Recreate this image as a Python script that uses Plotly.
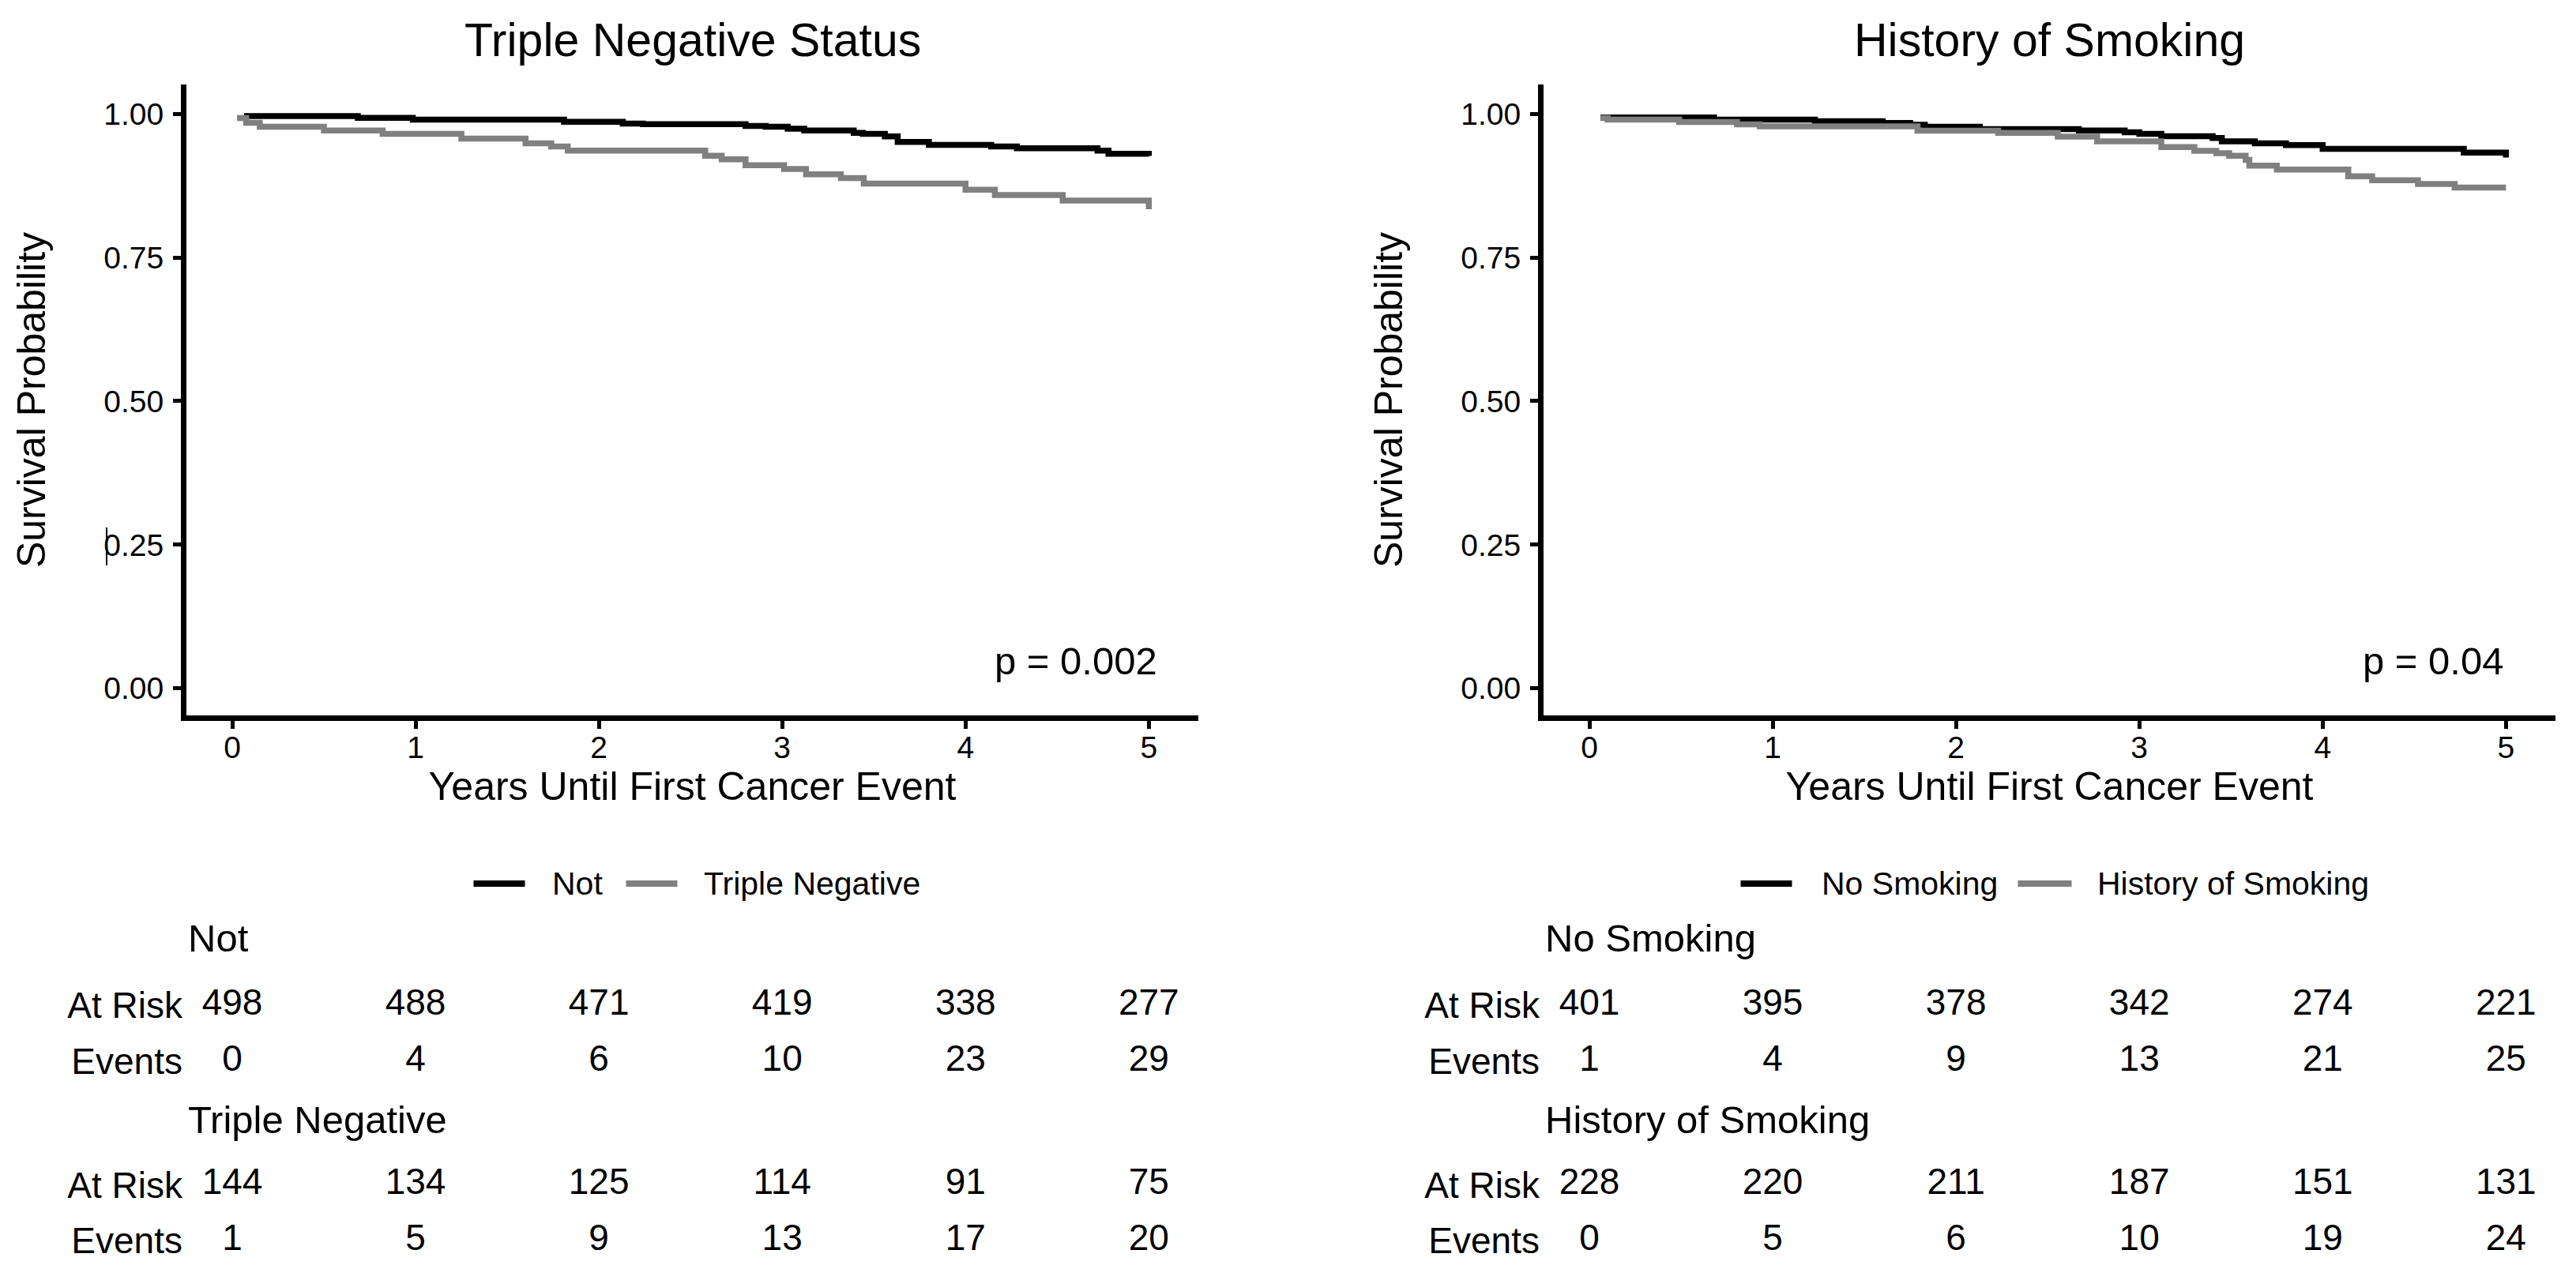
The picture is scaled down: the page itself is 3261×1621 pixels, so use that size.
import plotly.graph_objects as go

W, H = 3261, 1621
# the page body keeps its default 8px margin, so the figure is shrunk by it
# and every pixel position below is given in window pixels
OFF = 8
FIG_W, FIG_H = W - 2 * OFF, H - 2 * OFF
FONT = "Liberation Sans, Arial, sans-serif"
BLACK = "#000000"
GREY = "#808080"

YEAR_TICKS = [0, 1, 2, 3, 4, 5]
ROW_LABELS = ["At Risk", "Events"]

# --- Triple Negative Status ---
tn_not_time = [0.065, 0.685, 0.985, 1.81, 2.13, 2.24, 2.80, 2.91, 3.03, 3.12,
               3.39, 3.44, 3.56, 3.63, 3.80, 4.14, 4.28, 4.72, 4.78, 5.0]
tn_not_surv = [0.996, 0.993, 0.990, 0.986, 0.983, 0.982, 0.979, 0.9775, 0.974, 0.971,
               0.967, 0.965, 0.9605, 0.951, 0.946, 0.943, 0.940, 0.936, 0.9305, 0.9265]
tn_neg_time = [0.026, 0.076, 0.15, 0.50, 0.82, 1.25, 1.60, 1.74, 1.83, 2.58,
               2.67, 2.80, 3.01, 3.13, 3.32, 3.445, 4.0, 4.16, 4.53, 5.0]
tn_neg_surv = [0.9925, 0.9845, 0.9775, 0.971, 0.965, 0.957, 0.9485, 0.943, 0.936, 0.927,
               0.9207, 0.9106, 0.904, 0.8946, 0.888, 0.8785, 0.868, 0.8587, 0.849, 0.834]
tn_not_risk = [498, 488, 471, 419, 338, 277]
tn_not_events = [0, 4, 6, 10, 23, 29]
tn_neg_risk = [144, 134, 125, 114, 91, 75]
tn_neg_events = [1, 5, 9, 13, 17, 20]

# --- History of Smoking ---
sm_no_time = [0.06, 0.68, 1.23, 1.60, 1.75, 1.83, 2.13, 2.67, 2.92, 3.0,
              3.12, 3.40, 3.45, 3.63, 3.80, 4.0, 4.77, 5.0]
sm_no_surv = [0.9935, 0.990, 0.987, 0.984, 0.981, 0.9775, 0.9735, 0.971, 0.968, 0.965,
              0.961, 0.958, 0.952, 0.9486, 0.9455, 0.939, 0.9326, 0.924]
sm_hist_time = [0.06, 0.10, 0.49, 0.805, 0.93, 1.79, 2.23, 2.555, 2.77, 3.12,
                3.30, 3.42, 3.49, 3.58, 3.60, 3.75, 4.14, 4.27, 4.52, 4.72, 5.0]
sm_hist_surv = [0.9925, 0.990, 0.9857, 0.9816, 0.978, 0.9706, 0.967, 0.9603, 0.952, 0.942,
                0.9357, 0.9315, 0.927, 0.9197, 0.9097, 0.903, 0.8914, 0.8845, 0.8777, 0.8716, 0.8716]
sm_no_risk = [401, 395, 378, 342, 274, 221]
sm_no_events = [1, 4, 9, 13, 21, 25]
sm_hist_risk = [228, 220, 211, 187, 151, 131]
sm_hist_events = [0, 5, 6, 10, 19, 24]

p_values = ["p = 0.002", "p = 0.04"]


def px_x(p):
    return (p - OFF) / FIG_W


def px_y(p):
    return 1 - (p - OFF) / FIG_H


X_RANGE = [-0.25, 5.27]
Y_RANGE = [-0.047, 1.051]

panels = [
    dict(title="Triple Negative Status", x="x", y="y", dom=(236, 1517),
         tables=("y3", "y4"), pval=p_values[0],
         # legend pieces, pixel offsets from the panel centre: line start, line end, text
         key=[(-277, -212, -180), (-84, -19, 13)],
         groups=[("Not", tn_not_time, tn_not_surv, tn_not_risk, tn_not_events, BLACK),
                 ("Triple Negative", tn_neg_time, tn_neg_surv, tn_neg_risk, tn_neg_events, GREY)]),
    dict(title="History of Smoking", x="x2", y="y2", dom=(1954, 3235),
         tables=("y5", "y6"), pval=p_values[1],
         key=[(-391, -326, -291), (-40, 28, 58)],
         groups=[("No Smoking", sm_no_time, sm_no_surv, sm_no_risk, sm_no_events, BLACK),
                 ("History of Smoking", sm_hist_time, sm_hist_surv, sm_hist_risk, sm_hist_events, GREY)]),
]

# rows of the risk tables (pixel centres): strata title, at risk, events
TABLE_ROWS = [(1188, 1273, 1344), (1418, 1501, 1571)]
ROW_STEP = 71
LEGEND_Y = 1119

fig = go.Figure()
layout = dict(
    width=FIG_W, height=FIG_H,
    margin=dict(l=0, r=0, t=0, b=0),
    paper_bgcolor="white", plot_bgcolor="white",
    font=dict(family=FONT, color=BLACK),
    showlegend=False,
    annotations=[], shapes=[],
)

axis_common = dict(showgrid=False, zeroline=False, automargin=False, fixedrange=True)

for p in panels:
    xdom = [px_x(p["dom"][0]), px_x(p["dom"][1])]
    centre = sum(p["dom"]) / 2
    xname = "xaxis" if p["x"] == "x" else "xaxis2"
    yname = "yaxis" if p["y"] == "y" else "yaxis2"

    for name, t, s, risk, ev, col in p["groups"]:
        fig.add_trace(go.Scatter(
            x=t, y=s, mode="lines", name=name,
            line=dict(color=col, width=7.5, shape="hv"),
            xaxis=p["x"], yaxis=p["y"], hoverinfo="skip",
        ))

    layout[xname] = dict(
        axis_common, domain=xdom, anchor=p["y"], range=X_RANGE,
        tickvals=YEAR_TICKS, ticks="outside", ticklen=10, tickwidth=5, tickcolor=BLACK,
        showline=True, linewidth=7, linecolor=BLACK,
        tickfont=dict(size=39, color=BLACK), ticklabelstandoff=-10,
        title=dict(text="Years Until First Cancer Event", font=dict(size=50), standoff=14),
    )
    layout[yname] = dict(
        axis_common, domain=[px_y(906), px_y(107)], anchor=p["x"], range=Y_RANGE,
        tickvals=[0, 0.25, 0.5, 0.75, 1.0], tickformat=".2f",
        ticks="outside", ticklen=10, tickwidth=5, tickcolor=BLACK,
        showline=True, linewidth=7, linecolor=BLACK,
        tickfont=dict(size=39, color=BLACK), ticklabelstandoff=4,
        title=dict(text="Survival Probability", font=dict(size=50), standoff=60),
    )

    layout["annotations"].append(dict(
        text=p["title"], xref="paper", yref="paper", x=sum(xdom) / 2, y=px_y(51),
        xanchor="center", yanchor="middle", showarrow=False, font=dict(size=59),
    ))
    layout["annotations"].append(dict(
        text=p["pval"], xref=p["x"], yref=p["y"], x=4.6, y=0.048,
        xanchor="center", yanchor="middle", showarrow=False, font=dict(size=49),
    ))

    # legend row under the x axis title
    for (name, t, s, risk, ev, col), (l0, l1, tx) in zip(p["groups"], p["key"]):
        layout["shapes"].append(dict(
            type="line", xref="paper", yref="paper",
            x0=px_x(centre + l0), x1=px_x(centre + l1), y0=px_y(LEGEND_Y), y1=px_y(LEGEND_Y),
            line=dict(color=col, width=8),
        ))
        layout["annotations"].append(dict(
            text=name, xref="paper", yref="paper", x=px_x(centre + tx), y=px_y(LEGEND_Y),
            xanchor="left", yanchor="middle", showarrow=False, font=dict(size=41),
        ))

    # risk tables
    for (name, t, s, risk, ev, col), ytab, rows in zip(p["groups"], p["tables"], TABLE_ROWS):
        title_y, risk_y, ev_y = rows
        top = risk_y - ROW_STEP / 2
        bottom = ev_y + ROW_STEP / 2
        fig.add_trace(go.Scatter(
            x=YEAR_TICKS + YEAR_TICKS, y=[ROW_LABELS[0]] * 6 + [ROW_LABELS[1]] * 6,
            text=[str(v) for v in risk + ev], mode="text", textposition="middle center",
            textfont=dict(size=46, color=BLACK), showlegend=False, hoverinfo="skip",
            xaxis=p["x"], yaxis=ytab,
        ))
        layout["yaxis" + ytab[1:]] = dict(
            axis_common, domain=[px_y(bottom), px_y(top)], anchor=p["x"],
            type="category", categoryarray=ROW_LABELS, range=[1.5, -0.5],
            showline=False, ticks="", tickfont=dict(size=46, color=BLACK), ticklabelstandoff=4,
        )
        layout["annotations"].append(dict(
            text=name, xref="paper", yref="paper", x=xdom[0], y=px_y(title_y),
            xanchor="left", yanchor="middle", showarrow=False, font=dict(size=49),
        ))

# stray cursor mark next to the 0.25 label in the source image
layout["shapes"].append(dict(type="line", xref="paper", yref="paper",
                             x0=px_x(135), x1=px_x(135), y0=px_y(668), y1=px_y(716),
                             line=dict(color=BLACK, width=2)))

fig.update_layout(**layout)
fig.write_html("out.html")
